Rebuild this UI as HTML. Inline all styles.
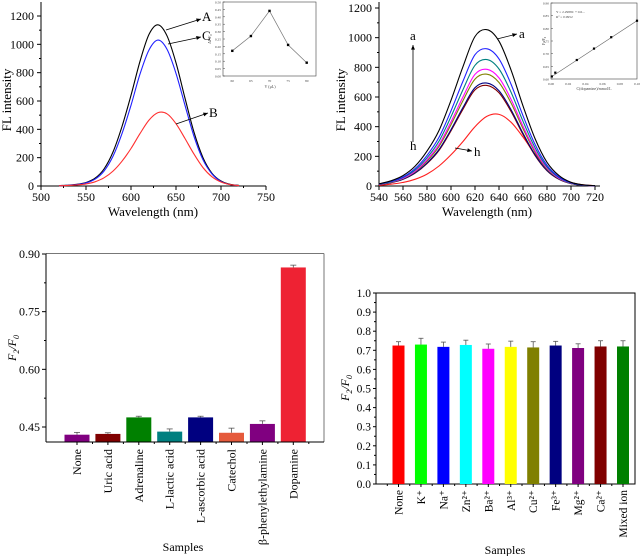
<!DOCTYPE html>
<html><head><meta charset="utf-8">
<style>
html,body{margin:0;padding:0;background:#fff;}
svg{display:block;font-family:"Liberation Serif",serif;}
</style></head>
<body>
<svg id="fig" width="643" height="556" viewBox="0 0 643 556"></svg>
<script>
// ---------- Data ----------
const wlA = [520,530,540,550,560,570,580,590,600,610,620,630,640,650,660,670,680,690,700,710,720];
const seriesA = [3,6,12,25,55,120,240,420,640,880,1070,1138,1060,870,620,380,200,90,35,12,4];
const seriesC = [2,5,10,22,48,105,210,370,570,790,960,1030,965,795,570,350,185,85,32,10,3];
const seriesB = [2,4,8,15,30,58,105,175,265,370,465,518,510,440,335,225,130,65,28,10,3];
const ticksX1 = [500,550,600,650,700,750];
const ticksY1 = [0,200,400,600,800,1000,1200];

const inset1X = [60,65,70,75,80];
const inset1Y = [0.17,0.27,0.44,0.21,0.09];

const wl2 = [540,550,560,570,580,590,600,610,620,630,640,650,660,670,680,690,700,710,720];
const curve_a = [15,35,70,133,235,374,578,805,1008,1054,976,783,540,320,160,70,25,8,2];
const curve_b = [13,31,61,117,206,328,507,707,885,925,857,687,474,281,140,61,22,7,2];
const curve_c = [12,28,57,107,190,302,467,650,814,852,789,633,436,259,129,57,20,6,2];
const curve_d = [11,26,52,99,176,279,432,601,753,787,729,585,403,239,120,52,19,6,1];
const curve_e = [11,25,50,95,168,267,413,576,721,754,698,560,386,229,114,50,18,6,1];
const curve_f = [10,23,46,88,155,246,380,530,663,694,642,515,355,211,105,46,16,5,1];
const curve_g = [10,22,45,86,151,240,372,518,648,678,628,503,347,206,103,45,16,5,1];
const curve_h = [5,12,24,45,80,135,210,300,400,470,483,430,330,215,120,58,24,8,3];
const ticksX2 = [540,560,580,600,620,640,660,680,700,720];
const ticksY2 = [0,200,400,600,800,1000,1200];

const inset2X = [0.001,0.005,0.03,0.05,0.07,0.1];
const inset2Y = [0.61,0.625,0.675,0.72,0.765,0.83];

const cats3 = ["None","Uric acid","Adrenaline","L-lactic acid","L-ascorbic acid","Catechol","\u03b2-phenylethylamine","Dopamine"];
const vals3 = [0.430,0.432,0.475,0.438,0.475,0.435,0.458,0.865];
const errs3 = [0.006,0.003,0.003,0.007,0.003,0.012,0.008,0.006];
const ticksY3 = [0.45,0.60,0.75,0.90];

const cats4 = ["None","K\u207a","Na\u207a","Zn\u00b2\u207a","Ba\u00b2\u207a","Al\u00b3\u207a","Cu\u00b2\u207a","Fe\u00b3\u207a","Mg\u00b2\u207a","Ca\u00b2\u207a","Mixed ion"];
const vals4 = [0.725,0.730,0.718,0.728,0.708,0.718,0.715,0.725,0.712,0.720,0.720];
const errs4 = [0.020,0.033,0.025,0.025,0.025,0.030,0.030,0.022,0.022,0.030,0.030];
const ticksY4 = [0,0.1,0.2,0.3,0.4,0.5,0.6,0.7,0.8,0.9,1.0];

// ---------- helpers ----------
const NS="http://www.w3.org/2000/svg";
const svg=document.getElementById('fig');
function el(tag,attrs,parent){const e=document.createElementNS(NS,tag);for(const k in attrs)e.setAttribute(k,attrs[k]);(parent||svg).appendChild(e);return e;}
function txt(s,x,y,attrs,parent){const t=el('text',Object.assign({x:x,y:y},attrs||{}),parent);t.textContent=s;return t;}
function lin(d0,d1,r0,r1){return v=>r0+(v-d0)*(r1-r0)/(d1-d0);}
function pathFrom(xs,ys,sx,sy){return xs.map((x,i)=>(i?'L':'M')+sx(x).toFixed(1)+','+sy(ys[i]).toFixed(1)).join(' ');}
function smoothPath(xs,ys,sx,sy){
  const P=xs.map((x,i)=>[sx(x),sy(ys[i])]);
  let d='M'+P[0][0].toFixed(1)+','+P[0][1].toFixed(1);
  for(let i=0;i<P.length-1;i++){
    const p0=P[Math.max(0,i-1)],p1=P[i],p2=P[i+1],p3=P[Math.min(P.length-1,i+2)];
    const c1=[p1[0]+(p2[0]-p0[0])/6,p1[1]+(p2[1]-p0[1])/6];
    const c2=[p2[0]-(p3[0]-p1[0])/6,p2[1]-(p3[1]-p1[1])/6];
    d+=` C${c1[0].toFixed(1)},${c1[1].toFixed(1)} ${c2[0].toFixed(1)},${c2[1].toFixed(1)} ${p2[0].toFixed(1)},${p2[1].toFixed(1)}`;
  }
  return d;
}

// ---------- Panel 1 ----------
const g1=el('g',{});


const x1=lin(500,750,41,266), y1=lin(0,1200,186,16);
el('line',{x1:41,y1:186,x2:266,y2:186,stroke:'#000','stroke-width':1},g1);
el('line',{x1:41,y1:186,x2:41,y2:2,stroke:'#000','stroke-width':1},g1);
ticksX1.forEach(v=>{el('line',{x1:x1(v),y1:186,x2:x1(v),y2:190,stroke:'#000'},g1);const t=txt(v,x1(v),201,{'font-size':12,'text-anchor':'middle'},g1);});
ticksY1.forEach(v=>{el('line',{x1:37,y1:y1(v),x2:41,y2:y1(v),stroke:'#000'},g1);const t=txt(v,34,y1(v)+4,{'font-size':12,'text-anchor':'end'},g1);});
for(let v=100;v<1200;v+=200)el('line',{x1:39,y1:y1(v),x2:41,y2:y1(v),stroke:'#000'},g1);
for(let v=525;v<750;v+=50)el('line',{x1:x1(v),y1:186,x2:x1(v),y2:188,stroke:'#000'},g1);
let t1=txt('FL intensity',0,0,{'font-size':13,'text-anchor':'middle',transform:'translate(11,100) rotate(-90)'},g1);

t1=txt('Wavelength (nm)',153,216,{'font-size':13,'text-anchor':'middle'},g1);

[[seriesA,'#000','curve-a'],[seriesC,'#2020ff','curve-c'],[seriesB,'#ff3030','curve-b']].forEach(s=>{
  const p=el('path',{d:smoothPath(wlA,s[0],x1,y1),fill:'none',stroke:s[1],'stroke-width':1.1},g1);
  
});
function arrow(xa,ya,xb,yb,parent){el('line',{x1:xa,y1:ya,x2:xb,y2:yb,stroke:'#000','stroke-width':0.8},parent);
  const a=Math.atan2(yb-ya,xb-xa);const L=5;
  el('path',{d:`M${xb},${yb} L${xb-L*Math.cos(a-0.4)},${yb-L*Math.sin(a-0.4)} L${xb-L*Math.cos(a+0.4)},${yb-L*Math.sin(a+0.4)}Z`,fill:'#000'},parent);}
arrow(166,30,201,19,g1);t1=txt('A',202,21,{'font-size':13},g1);
arrow(168,44,201,37,g1);t1=txt('C',202,40,{'font-size':13},g1);
arrow(176,124,208,113,g1);t1=txt('B',209,117,{'font-size':13},g1);
// inset 1
const gi1=el('g',{},g1);

const ix1=lin(57.5,82.5,223,316), iy1=lin(0,0.5,76,2);
el('rect',{x:223,y:2,width:93,height:74,fill:'#fff',stroke:'#444','stroke-width':0.6},gi1);
[0,0.05,0.1,0.15,0.2,0.25,0.3,0.35,0.4,0.45,0.5].forEach(v=>{el('line',{x1:223,y1:iy1(v),x2:225,y2:iy1(v),stroke:'#444','stroke-width':0.5},gi1);txt(v.toFixed(2),221,iy1(v)+1.5,{'font-size':3.5,'text-anchor':'end',fill:'#444'},gi1);});
inset1X.forEach(v=>{txt(v,ix1(v),82,{'font-size':3.5,'text-anchor':'middle',fill:'#444'},gi1);});
txt('V (\u03bcL)',270,88,{'font-size':4,'text-anchor':'middle',fill:'#444'},gi1);
txt('\u0394F/F\u2080',0,0,{'font-size':4,'text-anchor':'middle',fill:'#444',transform:'translate(211,39) rotate(-90)'},gi1);
el('path',{d:pathFrom(inset1X,inset1Y,ix1,iy1),fill:'none',stroke:'#777','stroke-width':0.7},gi1);
inset1X.forEach((v,i)=>{const r=el('rect',{x:ix1(v)-1.2,y:iy1(inset1Y[i])-1.2,width:2.4,height:2.4,fill:'#000'},gi1);});

// ---------- Panel 2 ----------
const g2=el('g',{});

const x2=lin(540,720,379,595), y2=lin(0,1200,186,8);
el('line',{x1:379,y1:186,x2:600,y2:186,stroke:'#000'},g2);
el('line',{x1:379,y1:186,x2:379,y2:2,stroke:'#000'},g2);
ticksX2.forEach(v=>{el('line',{x1:x2(v),y1:186,x2:x2(v),y2:190,stroke:'#000'},g2);const t=txt(v,x2(v),201,{'font-size':12,'text-anchor':'middle'},g2);});
ticksY2.forEach(v=>{el('line',{x1:375,y1:y2(v),x2:379,y2:y2(v),stroke:'#000'},g2);const t=txt(v,372,y2(v)+4,{'font-size':12,'text-anchor':'end'},g2);});
for(let v=100;v<1200;v+=200)el('line',{x1:377,y1:y2(v),x2:379,y2:y2(v),stroke:'#000'},g2);
let t2=txt('FL intensity',0,0,{'font-size':13,'text-anchor':'middle',transform:'translate(345,100) rotate(-90)'},g2);

t2=txt('Wavelength (nm)',487,216,{'font-size':13,'text-anchor':'middle'},g2);

[[curve_h,'#ff2020','curve-h'],[curve_g,'#800000','curve-g'],[curve_f,'#000080','curve-f'],[curve_e,'#808000','curve-e'],[curve_d,'#ff00ff','curve-d'],[curve_c,'#008080','curve-c'],[curve_b,'#2020ff','curve-b'],[curve_a,'#000','curve-a']].forEach(s=>{
  const p=el('path',{d:smoothPath(wl2,s[0],x2,y2),fill:'none',stroke:s[1],'stroke-width':1.1},g2);
  
});
arrow(413,142,413,45,g2);
t2=txt('a',410,40,{'font-size':13},g2);
t2=txt('h',410,150,{'font-size':13},g2);
arrow(497,39,517,34,g2);t2=txt('a',519,38,{'font-size':13},g2);
arrow(455,148,472,151,g2);t2=txt('h',474,156,{'font-size':13},g2);
// inset 2
const gi2=el('g',{},g2);

const ix2=lin(0,0.1,551,637), iy2=lin(0.6,0.9,79,3);
el('rect',{x:551,y:3,width:86,height:76,fill:'#fff',stroke:'#444','stroke-width':0.6},gi2);
[0.6,0.65,0.7,0.75,0.8,0.85,0.9].forEach(v=>{txt(v.toFixed(2),549,iy2(v)+1.5,{'font-size':3.5,'text-anchor':'end',fill:'#444'},gi2);el('line',{x1:551,y1:iy2(v),x2:553,y2:iy2(v),stroke:'#444','stroke-width':0.5},gi2);});
[0,0.02,0.04,0.06,0.08,0.1].forEach(v=>txt(v.toFixed(2),ix2(v),85,{'font-size':3.5,'text-anchor':'middle',fill:'#444'},gi2));
txt('C(dopamine)/mmol/L',594,90,{'font-size':4,'text-anchor':'middle',fill:'#444'},gi2);
txt('F\u2082/F\u2080',0,0,{'font-size':4,'text-anchor':'middle',fill:'#444',transform:'translate(545,41) rotate(-90)'},gi2);
txt('Y = 2.2988C + 0.6...',556,13,{'font-size':3.5,fill:'#444'},gi2);
txt('R\u00b2 = 0.9952',556,18,{'font-size':3.5,fill:'#444'},gi2);
el('line',{x1:ix2(0.001),y1:iy2(inset2Y[0]),x2:ix2(0.1),y2:iy2(inset2Y[5]),stroke:'#666','stroke-width':0.6},gi2);
inset2X.forEach((v,i)=>{const r=el('rect',{x:ix2(v)-1.1,y:iy2(inset2Y[i])-1.1,width:2.2,height:2.2,fill:'#000'},gi2);});

// ---------- Panel 3 ----------
const g3=el('g',{});

const y3=lin(0.45,0.90,427,254);
const bot3=442, L3=46, R3=324;
const cx3=i=>77+i*30.9;
el('line',{x1:L3,y1:253.5,x2:R3,y2:253.5,stroke:'#777'},g3);
el('line',{x1:R3,y1:253.5,x2:R3,y2:bot3,stroke:'#777'},g3);
cats3.forEach((c,i)=>{
  const top=y3(vals3[i]);
  const r=el('rect',{x:cx3(i)-12.5,y:top,width:25,height:bot3-top,fill:['#800080','#800000','#008000','#008080','#000080','#e55a3c','#800080','#ee2233'][i]},g3);
  
  const ye=y3(vals3[i]+errs3[i]);
  el('line',{x1:cx3(i),y1:top,x2:cx3(i),y2:ye,stroke:'#555','stroke-width':0.8},g3);
  el('line',{x1:cx3(i)-3,y1:ye,x2:cx3(i)+3,y2:ye,stroke:'#555','stroke-width':0.8},g3);
  const t=txt(c,0,0,{'font-size':12,'text-anchor':'end',transform:`translate(${cx3(i)+4},${bot3+7}) rotate(-90)`},g3);
  
  el('line',{x1:cx3(i),y1:bot3,x2:cx3(i),y2:bot3+3,stroke:'#000'},g3);
  el('line',{x1:cx3(i)+15.5,y1:bot3,x2:cx3(i)+15.5,y2:bot3+2,stroke:'#000'},g3);
});
el('line',{x1:L3,y1:bot3,x2:R3,y2:bot3,stroke:'#000'},g3);
el('line',{x1:L3,y1:bot3,x2:L3,y2:253.5,stroke:'#000'},g3);
ticksY3.forEach(v=>{el('line',{x1:L3-4,y1:y3(v),x2:L3,y2:y3(v),stroke:'#000'},g3);const t=txt(v.toFixed(2),L3-6,y3(v)+4,{'font-size':12,'text-anchor':'end'},g3);});
[0.525,0.675,0.825].forEach(v=>el('line',{x1:L3-2,y1:y3(v),x2:L3,y2:y3(v),stroke:'#000'},g3));
let t3=txt('Samples',183,551,{'font-size':12,'text-anchor':'middle'},g3);
t3=el('text',{'font-size':12,'font-style':'italic','text-anchor':'middle',transform:'translate(16,348) rotate(-90)'},g3);
t3.innerHTML='F<tspan font-size="8" dy="3">2</tspan><tspan dy="-3">/F</tspan><tspan font-size="8" dy="3">0</tspan>';


// ---------- Panel 4 ----------
const g4=el('g',{});

const y4=lin(0,1,484,293);
const L4=376,R4=635,bot4=484;
const cx4=i=>398.5+i*22.45;
el('rect',{x:L4,y:293,width:R4-L4,height:bot4-293,fill:'none',stroke:'#000'},g4);
const col4=['#ff0000','#00ff00','#0000ff','#00ffff','#ff00ff','#ffff00','#808000','#000080','#800080','#800000','#008000'];
cats4.forEach((c,i)=>{
  const top=y4(vals4[i]);
  const r=el('rect',{x:cx4(i)-6,y:top,width:12,height:bot4-top,fill:col4[i]},g4);
  
  const ye=y4(vals4[i]+errs4[i]);
  el('line',{x1:cx4(i),y1:top,x2:cx4(i),y2:ye,stroke:'#555','stroke-width':0.8},g4);
  el('line',{x1:cx4(i)-2.5,y1:ye,x2:cx4(i)+2.5,y2:ye,stroke:'#555','stroke-width':0.8},g4);
  el('line',{x1:cx4(i),y1:bot4,x2:cx4(i),y2:bot4+3,stroke:'#000'},g4);
  el('line',{x1:cx4(i)-11.2,y1:bot4,x2:cx4(i)-11.2,y2:bot4+2,stroke:'#000'},g4);
  const t=txt(c,0,0,{'font-size':11.5,'text-anchor':'end',transform:`translate(${cx4(i)+4},${bot4+6}) rotate(-90)`},g4);
  
});
ticksY4.forEach(v=>{el('line',{x1:L4-3,y1:y4(v),x2:L4,y2:y4(v),stroke:'#000'},g4);const t=txt(v.toFixed(1),L4-5,y4(v)+4,{'font-size':11.5,'text-anchor':'end'},g4);});
for(let v=0.05;v<1;v+=0.1)el('line',{x1:L4-2,y1:y4(v),x2:L4,y2:y4(v),stroke:'#000'},g4);
let t4=txt('Samples',505,554,{'font-size':12,'text-anchor':'middle'},g4);
t4=el('text',{'font-size':12,'font-style':'italic','text-anchor':'middle',transform:'translate(349,388) rotate(-90)'},g4);
t4.innerHTML='F<tspan font-size="8" dy="3">2</tspan><tspan dy="-3">/F</tspan><tspan font-size="8" dy="3">0</tspan>';

</script>
</body></html>
